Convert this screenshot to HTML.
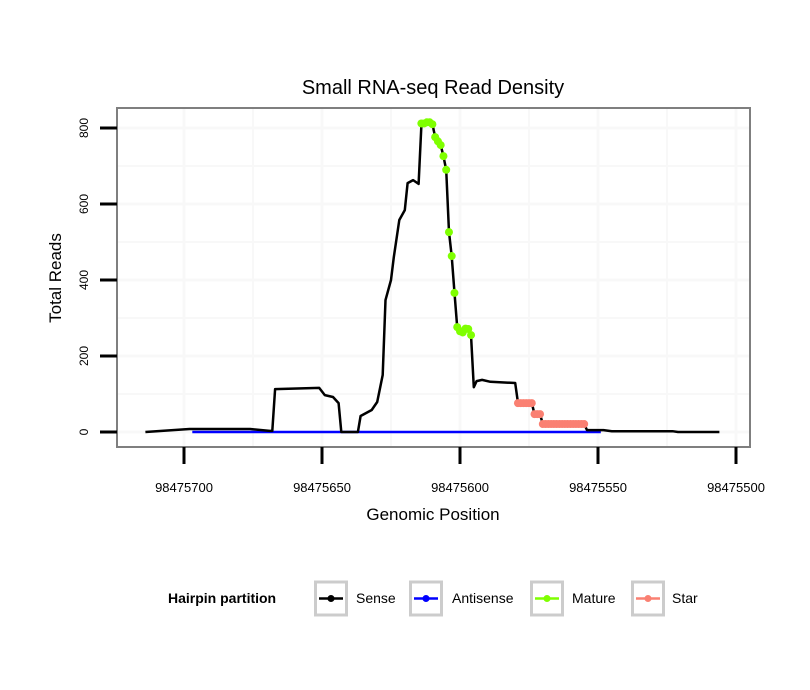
<!DOCTYPE html>
<html><head><meta charset="utf-8"><style>
body{margin:0;background:#fff;}
svg{display:block;font-family:"Liberation Sans",sans-serif;}
</style></head><body>
<svg id="chart" width="810" height="690" viewBox="0 0 810 690">
<rect width="810" height="690" fill="#fff"/>
<text x="433" y="94" font-size="20" text-anchor="middle">Small RNA-seq Read Density</text>
<g id="grid"></g>
<g id="series"></g>
<rect x="117" y="108" width="633" height="339" fill="none" stroke="#7f7f7f" stroke-width="2"/>
<g id="axes"></g>
<text x="433" y="520" font-size="17" text-anchor="middle">Genomic Position</text>
<text x="0" y="0" font-size="17" text-anchor="middle" transform="translate(61,278) rotate(-90)">Total Reads</text>
<g id="legend">
<text x="168" y="603" font-size="14" font-weight="bold">Hairpin partition</text>
</g>
</svg>
<script>
const senseX=[98475714,98475698,98475676,98475669,98475668,98475667,98475651,98475649,98475646,98475644,98475643,98475637,98475636,98475632,98475630,98475628,98475627,98475625,98475624,98475622,98475620,98475619,98475617,98475615,98475614,98475613,98475612,98475611,98475610,98475609,98475608,98475607,98475606,98475605,98475604,98475603,98475602,98475601,98475600,98475599,98475598,98475597,98475596,98475595,98475594,98475592,98475589,98475580,98475579,98475574,98475573,98475571,98475570,98475555,98475554,98475548,98475545,98475523,98475521,98475506];
const senseY=[0,8,8,3,3,113,116,97,92,76,0,0,42,58,79,150,347,400,460,558,584,655,663,653,808,812,815,815,810,776,765,755,726,690,526,463,366,276,265,262,272,271,255,118,134,137,132,129,76,76,47,47,21,21,5,5,2,2,0,0];
const antiX=[98475697,98475549];
const antiY=[0,0];
const matureX=[98475614,98475613,98475612,98475611,98475610,98475609,98475608,98475607,98475606,98475605,98475604,98475603,98475602,98475601,98475600,98475599,98475598,98475597,98475596];
const matureY=[812,812,815,815,810,776,765,755,726,690,526,463,366,276,265,262,272,271,255];
const starX=[98475579,98475578,98475577,98475576,98475575,98475574,98475573,98475572,98475571,98475570,98475569,98475568,98475567,98475566,98475565,98475564,98475563,98475562,98475561,98475560,98475559,98475558,98475557,98475556,98475555];
const starY=[76,76,76,76,76,76,47,47,47,21,21,21,21,21,21,21,21,21,21,21,21,21,21,21,21];
const xTicks=[98475700,98475650,98475600,98475550,98475500];
const xMinor=[98475675,98475625,98475575,98475525];
const yTicks=[0,200,400,600,800];
const yMinor=[100,300,500,700];
const NS="http://www.w3.org/2000/svg";
function X(p){return 184+(98475700-p)*2.76;}
function Y(v){return 432-v*0.38;}
function el(t,a,parent){const e=document.createElementNS(NS,t);for(const k in a)e.setAttribute(k,a[k]);parent.appendChild(e);return e;}
const grid=document.getElementById('grid'),series=document.getElementById('series'),axes=document.getElementById('axes'),legend=document.getElementById('legend');
yMinor.concat(yTicks).forEach(v=>{const l=el('line',{x1:117,x2:750,y1:Y(v),y2:Y(v),stroke:'#f8f8f8','stroke-width':yTicks.includes(v)?3:2},grid);

});
xMinor.concat(xTicks).forEach(p=>{if(X(p)>750)return;const l=el('line',{x1:X(p),x2:X(p),y1:108,y2:447,stroke:'#f8f8f8','stroke-width':xTicks.includes(p)?3:2},grid);

});
yTicks.forEach(v=>{const t=el('line',{x1:100,x2:117,y1:Y(v),y2:Y(v),stroke:'#000','stroke-width':3},axes);


const tx=el('text',{transform:`translate(88,${Y(v)}) rotate(-90)`,'font-size':12,'text-anchor':'middle'},axes);tx.textContent=v;

});
xTicks.forEach(p=>{const t=el('line',{x1:X(p),x2:X(p),y1:447,y2:464,stroke:'#000','stroke-width':3},axes);


const tx=el('text',{x:X(p),y:492,'font-size':13,'text-anchor':'middle'},axes);tx.textContent=p;

});
function line(xs,ys,c,name){const d=xs.map((p,i)=>(i?'L':'M')+X(p).toFixed(1)+','+Y(ys[i]).toFixed(1)).join('');
const pth=el('path',{d:d,fill:'none',stroke:c,'stroke-width':2.5,'stroke-linejoin':'round'},series);

}
line(antiX,antiY,'#0000ff','antisense-line');
line(senseX,senseY,'#000','sense-line');
function pts(xs,ys,c,name){xs.forEach((p,i)=>{const ci=el('circle',{cx:X(p),cy:Y(ys[i]),r:4,fill:c},series);

});}
pts(matureX,matureY,'#7fff00','mature-point');
pts(starX,starY,'#fa8072','star-point');
const items=[['Sense','#000',314,356],['Antisense','#0000ff',409,452],['Mature','#7fff00',530,572],['Star','#fa8072',631,672]];
items.forEach(it=>{const g=el('g',{},legend);


el('rect',{x:it[2]+1.5,y:582,width:31,height:33,fill:'#fff',stroke:'#cccccc','stroke-width':3},g);
el('line',{x1:it[2]+5,x2:it[2]+29,y1:598.5,y2:598.5,stroke:it[1],'stroke-width':2.5},g);
el('circle',{cx:it[2]+17,cy:598.5,r:3.5,fill:it[1]},g);
const t=el('text',{x:it[3],y:603,'font-size':14},g);t.textContent=it[0];});
</script>
</body></html>
